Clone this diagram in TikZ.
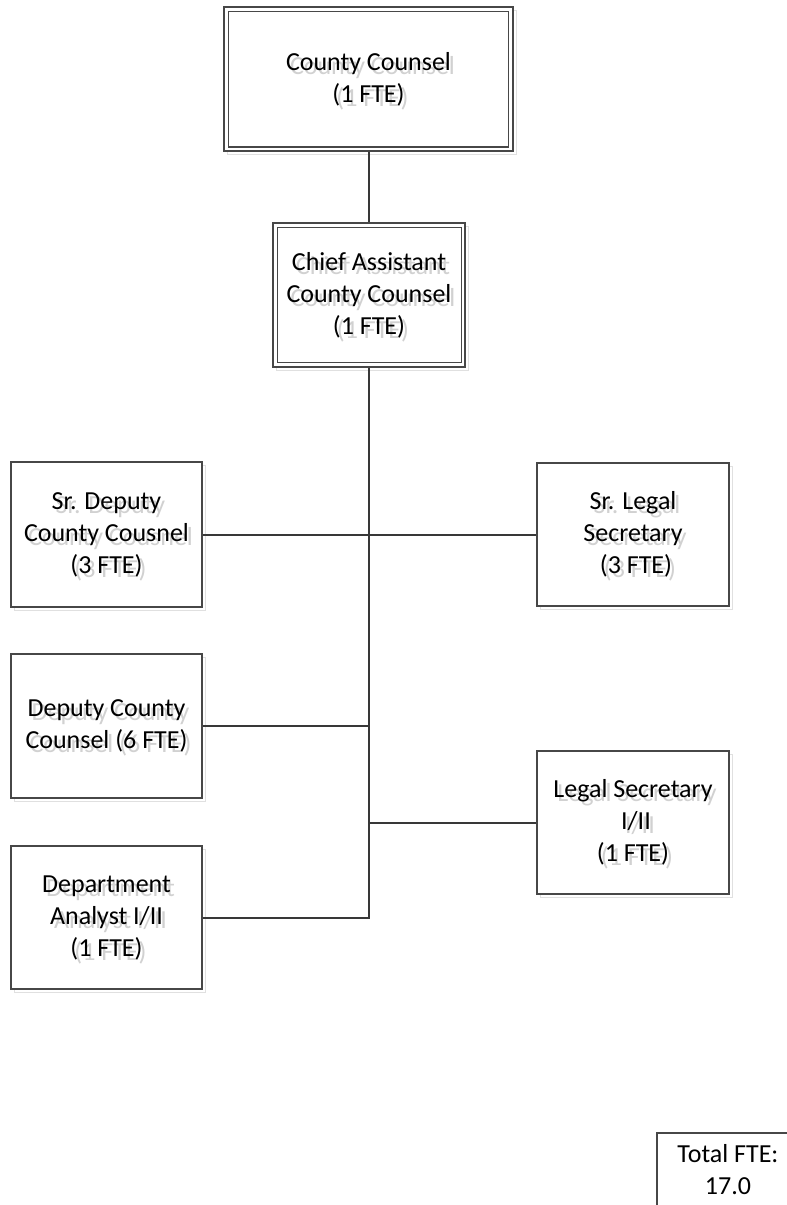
\documentclass[tikz,border=0pt]{standalone}
\usepackage{fontspec}
\setmainfont{Carlito}
\usetikzlibrary{shadows}

% label text with a soft grey drop copy behind it
\newcommand\unittext[2]{%
  \node[lbl, text=black!18] (#1-sh) at ([shift={(3pt,-3pt)}]#1.center) {#2};
  \node[lbl] (#1-t) at (#1.center) {#2};
}

\begin{document}
\begin{tikzpicture}[x=0.75pt,y=-0.75pt,
  unit/.style={draw=black!72, line width=0.9pt, fill=white, inner sep=0pt,
    general shadow={draw=black!12, fill=none, shadow xshift=2.4pt, shadow yshift=-2.4pt}},
  frame/.style={draw=black!72, line width=0.9pt},
  conn/.style={draw=black!78, line width=1.5pt},
  lbl/.style={align=center, inner sep=0pt, font=\fontsize{19.5}{24}\selectfont},
  plain/.style={draw=black!72, line width=0.9pt, fill=white, inner sep=0pt}
]
\useasboundingbox (0,0) rectangle (787,1205);
\clip (0,0) rectangle (787,1205);

% boxes
\node[unit, minimum width=216.75pt, minimum height=108pt] (cc) at (368.5,79) {};
\draw[frame] ([shift={(4pt,3.5pt)}]cc.south west) rectangle ([shift={(-4pt,-3.75pt)}]cc.north east);
\node[unit, minimum width=144pt, minimum height=108pt] (ca) at (369,295) {};
\draw[frame] ([shift={(3.75pt,3.75pt)}]ca.south west) rectangle ([shift={(-3.25pt,-3.75pt)}]ca.north east);

\node[unit, minimum width=143.25pt, minimum height=108.75pt] (sd) at (106.5,534.5) {};
\node[unit, minimum width=144pt, minimum height=107.25pt] (sl) at (633,534.5) {};
\node[unit, minimum width=143.25pt, minimum height=108pt] (dc) at (106.5,726) {};
\node[unit, minimum width=144pt, minimum height=107.25pt] (ls) at (633,822.5) {};
\node[unit, minimum width=143.25pt, minimum height=107.25pt] (da) at (106.5,917.5) {};
\node[plain, minimum width=107.25pt, minimum height=69pt] (tot) at (728.5,1179) {};

% connectors
\draw[conn] (cc.south) -- (cc.south |- ca.north);
\draw[conn] (ca.south) |- (da.east);
\draw[conn] (sd.east) -- (sl.west);
\draw[conn] (dc.east) -- (ca.south |- dc.east);
\draw[conn] (ls.west) -- (ca.south |- ls.west);

% labels
\unittext{cc}{County Counsel\\(1 FTE)}
\unittext{ca}{Chief Assistant\\County Counsel\\(1 FTE)}
\unittext{sd}{Sr. Deputy\\County Cousnel\\(3 FTE)}
\unittext{sl}{Sr. Legal\\Secretary\\\hspace*{0.23em}(3 FTE)}
\unittext{dc}{Deputy County\\Counsel (6 FTE)}
\unittext{ls}{Legal Secretary\\\hspace*{0.23em}I/II\\(1 FTE)}
\unittext{da}{Department\\Analyst I/II\\(1 FTE)}
\node[lbl] (tot-t) at (728,1170) {Total FTE:\\17.0};
\end{tikzpicture}
\end{document}
